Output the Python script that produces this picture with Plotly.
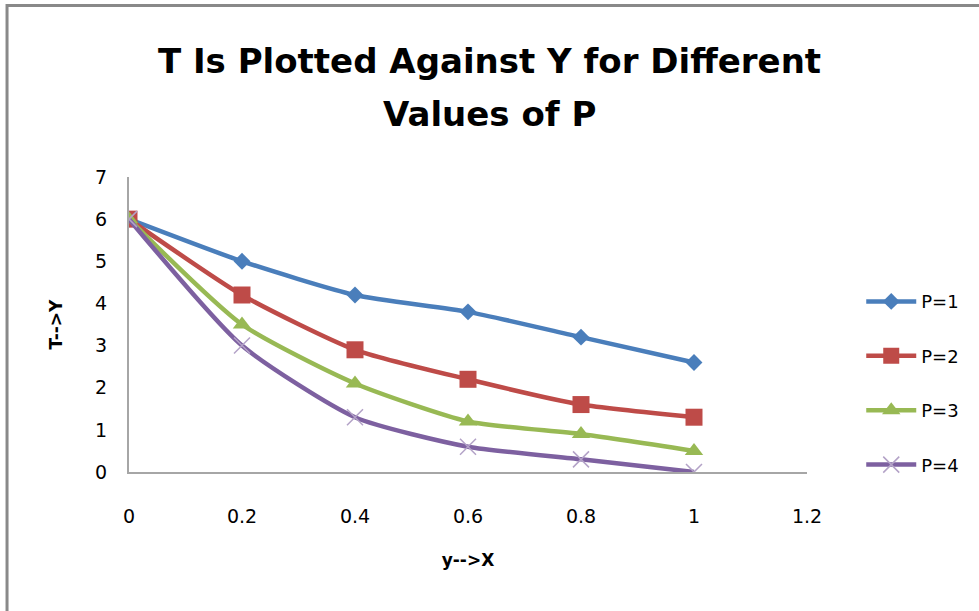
import plotly.graph_objects as go

# Y positions (x-axis) and T values for each P
y_vals = [0, 0.2, 0.4, 0.6, 0.8, 1.0]
t_p1 = [6, 5.0, 4.2, 3.8, 3.2, 2.6]
t_p2 = [6, 4.2, 2.9, 2.2, 1.6, 1.3]
t_p3 = [6, 3.5, 2.1, 1.2, 0.9, 0.5]
t_p4 = [6, 3.0, 1.3, 0.6, 0.3, 0.0]

series_names = ["P=1", "P=2", "P=3", "P=4"]
x_ticks = [0, 0.2, 0.4, 0.6, 0.8, 1, 1.2]
x_tick_text = ["0", "0.2", "0.4", "0.6", "0.8", "1", "1.2"]
y_ticks = [0, 1, 2, 3, 4, 5, 6, 7]

title_line1 = "T Is Plotted Against Y for Different"
title_line2 = "Values of P"

FONT = "DejaVu Sans, sans-serif"

styles = [
    dict(color="#4A7EBB", marker=dict(symbol="diamond", size=13, color="#4A7EBB")),
    dict(color="#BE4B48", marker=dict(symbol="square", size=17, color="#BE4B48")),
    dict(color="#98B954", marker=dict(symbol="triangle-up", size=16, color="#98B954")),
    dict(color="#7D60A0", marker=dict(symbol="x-thin", size=16,
                                      line=dict(color="#B3A2C7", width=1.5),
                                      color="#B3A2C7")),
]

fig = go.Figure()
for name, vals, st in zip(series_names, [t_p1, t_p2, t_p3, t_p4], styles):
    fig.add_trace(go.Scatter(
        x=y_vals, y=vals, name=name, mode="lines+markers",
        line=dict(color=st["color"], width=4.5, shape="spline", smoothing=0.6),
        marker=st["marker"], legendgroup=name,
    ))

fig.update_layout(
    width=979, height=611,
    margin=dict(l=129, r=172, t=177, b=139),
    paper_bgcolor="white", plot_bgcolor="white",
    font=dict(family=FONT, color="#000000", size=19),
    title=dict(
        text="<b>" + title_line1 + "</b>",
        x=0.5, xref="container", xanchor="center",
        y=0.900, yanchor="middle",
        font=dict(family=FONT, size=34, color="#000000"),
    ),
    showlegend=True,
    legend=dict(
        x=1.08, xanchor="left", y=0.64, yanchor="top",
        font=dict(family=FONT, size=18, color="#000000"),
        tracegroupgap=28, bgcolor="rgba(0,0,0,0)",
        itemwidth=50,
    ),
    xaxis=dict(
        range=[0, 1.2], tickvals=x_ticks, ticktext=x_tick_text,
        showgrid=False, zeroline=False, showline=True,
        linecolor="#A6A6A6", linewidth=2, ticks="",
        ticklabelstandoff=26,
        tickfont=dict(family=FONT, size=19),
        title=dict(text="<b>y-->X</b>", font=dict(family=FONT, size=17), standoff=28),
    ),
    yaxis=dict(
        range=[0, 7], tickvals=y_ticks,
        showgrid=False, zeroline=False, showline=True,
        linecolor="#A6A6A6", linewidth=2, ticks="",
        ticklabelstandoff=16,
        tickfont=dict(family=FONT, size=19),
        title=dict(text="<b>T-->Y</b>", font=dict(family=FONT, size=17), standoff=28),
    ),
)

# Second title line, centred under the first
fig.add_annotation(
    text="<b>" + title_line2 + "</b>", xref="paper", yref="paper",
    x=(489.5 - 129) / 678, y=1.215, xanchor="center", yanchor="middle",
    showarrow=False, font=dict(family=FONT, size=34, color="#000000"),
)

# Chart frame (left and top edges)
fig.add_shape(type="path", xref="paper", yref="paper",
              path="M -0.1799,-0.6 L -0.1799,1.5816 L 1.3,1.5816",
              line=dict(color="#898989", width=3))

fig.write_html("out.html")
